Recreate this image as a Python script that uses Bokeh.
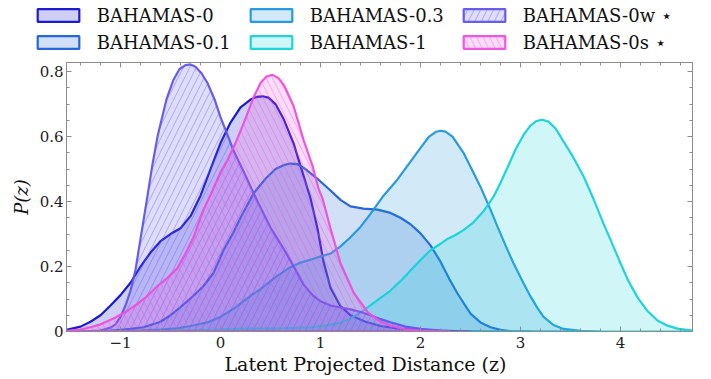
from bokeh.plotting import figure
from bokeh.layouts import column
from bokeh.models import (Legend, LegendItem, LinearAxis, SingleIntervalTicker,
                          Range1d, CustomJSTickFormatter, Title)
from bokeh.embed import file_html
from bokeh.resources import INLINE

# ---------------- data ----------------
z_b0 = [-1.54, -1.4, -1.3, -1.2, -1.1, -1.0, -0.9, -0.8, -0.7, -0.6, -0.5, -0.4, -0.3, -0.2,
        -0.1, 0.0, 0.1, 0.2, 0.3, 0.36, 0.42, 0.48, 0.55, 0.63, 0.73, 0.83, 0.9, 0.97, 1.03,
        1.1, 1.2, 1.3, 1.45, 1.6, 1.8, 2.0, 2.3, 2.6]
p_b0 = [0.005, 0.015, 0.03, 0.05, 0.08, 0.112, 0.15, 0.2, 0.243, 0.278, 0.3, 0.318, 0.355,
        0.418, 0.5, 0.58, 0.643, 0.69, 0.714, 0.722, 0.724, 0.72, 0.7, 0.655, 0.58, 0.48,
        0.41, 0.317, 0.215, 0.135, 0.078, 0.05, 0.03, 0.017, 0.008, 0.004, 0.001, 0.0]

z_b01 = [-1.54, -1.1, -0.9, -0.77, -0.6, -0.5, -0.4, -0.27, -0.17, -0.07, 0.03, 0.13, 0.2,
         0.33, 0.45, 0.55, 0.63, 0.7, 0.77, 0.85, 0.97, 1.1, 1.2, 1.3, 1.43, 1.57, 1.7, 1.8,
         1.9, 2.0, 2.1, 2.2, 2.3, 2.37, 2.5, 2.6, 2.7, 2.8, 2.9, 3.1]
p_b01 = [0.0, 0.002, 0.008, 0.013, 0.03, 0.05, 0.075, 0.11, 0.14, 0.18, 0.25, 0.305, 0.35,
         0.425, 0.47, 0.5, 0.512, 0.517, 0.515, 0.5, 0.47, 0.434, 0.405, 0.385, 0.378, 0.375,
         0.365, 0.35, 0.33, 0.302, 0.265, 0.215, 0.155, 0.117, 0.055, 0.028, 0.013, 0.005,
         0.001, 0.0]

z_b03 = [-1.54, -0.8, -0.6, -0.43, -0.3, -0.13, 0.0, 0.13, 0.3, 0.4, 0.5, 0.57, 0.7, 0.8,
         0.97, 1.1, 1.2, 1.3, 1.4, 1.5, 1.63, 1.77, 1.9, 2.0, 2.08, 2.15, 2.2, 2.25, 2.32,
         2.43, 2.52, 2.6, 2.7, 2.77, 2.85, 2.93, 3.02, 3.1, 3.17, 3.23, 3.33, 3.43, 3.6, 3.8]
p_b03 = [0.0, 0.003, 0.006, 0.01, 0.017, 0.028, 0.045, 0.07, 0.11, 0.13, 0.155, 0.172, 0.198,
         0.212, 0.228, 0.24, 0.262, 0.29, 0.322, 0.362, 0.418, 0.468, 0.523, 0.565, 0.598,
         0.614, 0.618, 0.615, 0.6, 0.55, 0.495, 0.445, 0.375, 0.323, 0.265, 0.21, 0.155, 0.108,
         0.072, 0.045, 0.02, 0.008, 0.002, 0.0]

z_b1 = [-1.54, -0.5, 0.0, 0.3, 0.63, 0.9, 1.05, 1.2, 1.3, 1.43, 1.55, 1.7, 1.8, 1.9, 2.0,
        2.1, 2.2, 2.27, 2.35, 2.43, 2.53, 2.63, 2.73, 2.8, 2.87, 2.95, 3.03, 3.1, 3.16, 3.22,
        3.28, 3.35, 3.43, 3.53, 3.63, 3.73, 3.83, 3.92, 4.0, 4.08, 4.17, 4.27, 4.37, 4.47,
        4.57, 4.72]
p_b1 = [0.0, 0.002, 0.006, 0.009, 0.01, 0.013, 0.018, 0.027, 0.04, 0.065, 0.092, 0.126, 0.155,
        0.188, 0.22, 0.25, 0.27, 0.285, 0.297, 0.312, 0.336, 0.37, 0.415, 0.458, 0.505, 0.56,
        0.605, 0.634, 0.648, 0.652, 0.646, 0.625, 0.585, 0.535, 0.478, 0.408, 0.332, 0.268,
        0.21, 0.155, 0.105, 0.063, 0.034, 0.018, 0.009, 0.003]

z_b0w = [-1.54, -1.3, -1.2, -1.1, -1.05, -1.0, -0.95, -0.9, -0.85, -0.8, -0.73, -0.68, -0.63,
         -0.54, -0.47, -0.41, -0.35, -0.3, -0.25, -0.19, -0.13, -0.06, 0.0, 0.07, 0.13, 0.25,
         0.37, 0.5, 0.65, 0.75, 0.83, 0.92, 1.0, 1.1, 1.2, 1.3, 1.4, 1.5, 1.6, 1.7, 1.85, 2.0,
         2.2, 2.5]
p_b0w = [0.0, 0.001, 0.003, 0.012, 0.022, 0.045, 0.08, 0.125, 0.19, 0.285, 0.418, 0.515, 0.6,
         0.715, 0.775, 0.808, 0.82, 0.822, 0.815, 0.795, 0.765, 0.715, 0.66, 0.605, 0.557, 0.48,
         0.4, 0.32, 0.245, 0.19, 0.145, 0.112, 0.093, 0.08, 0.074, 0.068, 0.06, 0.05, 0.038,
         0.028, 0.015, 0.008, 0.003, 0.0]

z_b0s = [-1.54, -1.4, -1.3, -1.2, -1.07, -0.95, -0.83, -0.73, -0.63, -0.53, -0.43, -0.35,
         -0.27, -0.17, -0.1, 0.0, 0.07, 0.15, 0.23, 0.33, 0.4, 0.46, 0.52, 0.58, 0.64, 0.73,
         0.83, 0.92, 0.98, 1.02, 1.1, 1.2, 1.33, 1.47, 1.6, 1.7, 1.85, 2.0, 2.3]
p_b0s = [0.002, 0.006, 0.013, 0.022, 0.04, 0.06, 0.085, 0.11, 0.14, 0.165, 0.195, 0.24, 0.29,
         0.375, 0.42, 0.49, 0.528, 0.58, 0.64, 0.72, 0.765, 0.785, 0.79, 0.78, 0.755, 0.695,
         0.59, 0.51, 0.44, 0.41, 0.317, 0.21, 0.12, 0.06, 0.03, 0.018, 0.007, 0.003, 0.0]

labels = ["BAHAMAS-0", "BAHAMAS-0.1", "BAHAMAS-0.3", "BAHAMAS-1",
          "BAHAMAS-0w \u22c6", "BAHAMAS-0s \u22c6"]
colors = ["#1010d0", "#1a5fd9", "#1e96dc", "#14d2d8", "#5f55ee", "#ee4ede"]
hatches = [None, None, None, None, "right_diagonal_line", "left_diagonal_line"]
series = [(z_b0, p_b0), (z_b01, p_b01), (z_b03, p_b03), (z_b1, p_b1),
          (z_b0w, p_b0w), (z_b0s, p_b0s)]

x_ticks_label = {-1: "\u22121", 0: "0", 1: "1", 2: "2", 3: "3", 4: "4"}
x_title = "Latent Projected Distance (z)"
y_title = "P(z)"

FONT = "DejaVu Serif"
GRAY = "#8c8c8c"


def style(col, h):
    kw = dict(fill_color=col, fill_alpha=0.2, line_color=col, line_width=2.2, line_alpha=0.95)
    if h is not None:
        kw.update(hatch_pattern=h, hatch_color=col, hatch_alpha=0.5, hatch_scale=13,
                  hatch_weight=0.8)
    return kw


def closed(zs, ps):
    return [zs[0]] + list(zs) + [zs[-1]], [0.0] + list(ps) + [0.0]


# ---------------- main plot ----------------
p = figure(width=711, height=318, min_border_left=66, min_border_right=19,
           min_border_top=1, min_border_bottom=48,
           x_range=Range1d(-1.54, 4.72), y_range=Range1d(0, 0.828),
           output_backend="svg", toolbar_location=None)
p.xgrid.visible = False
p.ygrid.visible = False
p.outline_line_color = GRAY
p.background_fill_color = "white"

xt = SingleIntervalTicker(interval=1, num_minor_ticks=5)
yt = SingleIntervalTicker(interval=0.2, num_minor_ticks=4)
p.xaxis.ticker = xt
p.yaxis.ticker = yt
p.xaxis.major_label_overrides = x_ticks_label

for ax in (p.xaxis[0], p.yaxis[0]):
    ax.axis_line_color = GRAY
    ax.major_tick_line_color = GRAY
    ax.minor_tick_line_color = GRAY
    ax.major_tick_in = 5
    ax.major_tick_out = 0
    ax.minor_tick_in = 3
    ax.minor_tick_out = 0
    ax.major_label_text_font = FONT
    ax.major_label_text_font_size = "15px"
    ax.major_label_text_color = "#222222"

p.yaxis.axis_label = y_title
p.yaxis.axis_label_text_font = FONT
p.yaxis.axis_label_text_font_size = "18px"
p.yaxis.axis_label_text_font_style = "italic"
p.yaxis.axis_label_text_color = "#111111"
p.xaxis.major_label_standoff = 5
p.yaxis.major_label_standoff = 3
p.yaxis.axis_label_standoff = 5

# x-axis title placed as a "below" title (lets it sit left of centre, as in the reference)
p.add_layout(Title(text=x_title, align="left", offset=158, standoff=0,
                   text_font=FONT, text_font_size="19px", text_font_style="normal",
                   text_color="#111111"), "below")

blank = CustomJSTickFormatter(code="return ''")
for loc, tk in (("right", yt), ("above", xt)):
    p.add_layout(LinearAxis(ticker=tk, formatter=blank, axis_line_color=GRAY,
                            major_tick_line_color=GRAY, minor_tick_line_color=GRAY,
                            major_tick_in=5, major_tick_out=0, minor_tick_in=3,
                            minor_tick_out=0, major_label_standoff=0), loc)

for (zs, ps), col, h in zip(series, colors, hatches):
    xs, ys = closed(zs, ps)
    p.patch(x=xs, y=ys, **style(col, h))

# ---------------- legend strip (above the plot) ----------------
# the strip's ranges keep its copies of the series out of view; only the legend shows
lg = figure(width=711, height=61, min_border=0, frame_align=False,
            x_range=Range1d(10, 11), y_range=Range1d(10, 11),
            x_axis_type=None, y_axis_type=None, output_backend="svg", toolbar_location=None)
lg.xgrid.visible = False
lg.ygrid.visible = False
lg.outline_line_color = None

items = []
for (zs, ps), lab, col, h in zip(series, labels, colors, hatches):
    xs, ys = closed(zs, ps)
    r = lg.patch(x=xs, y=ys, **style(col, h))
    items.append(LegendItem(label=lab, renderers=[r]))

legend = Legend(items=items, location=(31.75, 8.5), orientation="vertical", nrows=2,
                glyph_width=52, glyph_height=16, label_standoff=13, label_width=142,
                label_height=20, spacing=6, padding=0, margin=0,
                label_text_font=FONT, label_text_font_size="18px",
                label_text_color="#111111", border_line_color=None,
                background_fill_alpha=0.0)
lg.add_layout(legend)

layout = column(lg, p, spacing=0)
open("out.html", "w").write(file_html(layout, INLINE))
